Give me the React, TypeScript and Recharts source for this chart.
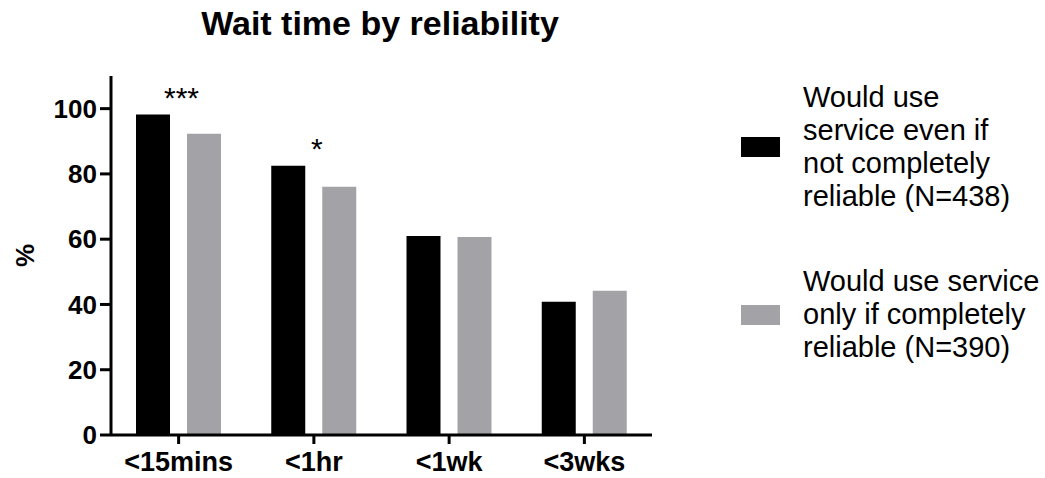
import React from 'react';
import { BarChart, Bar, XAxis, YAxis, Legend, LabelList, Label } from 'recharts';

// values
const categories = ['<15mins', '<1hr', '<1wk', '<3wks'];
const notReliable = [98.2, 82.5, 61.0, 40.8];
const onlyReliable = [92.3, 76.1, 60.7, 44.2];
const significance = ['***', '*', '', ''];
const yTicks = [0, 20, 40, 60, 80, 100];

const seriesNames = [
  'Would use service even if not completely reliable (N=438)',
  'Would use service only if completely reliable (N=390)',
];
// line breaks as they appear in the legend
const legendLines = [
  ['Would use', 'service even if', 'not completely', 'reliable (N=438)'],
  ['Would use service', 'only if completely', 'reliable (N=390)'],
];

const data = categories.map((c, i) => ({
  name: c,
  a: notReliable[i],
  b: onlyReliable[i],
  sig: significance[i],
}));

const FONT = '"Liberation Sans", Arial, Helvetica, sans-serif';
const LEGEND_W = 300;

const SigLabel = (props: any) => {
  const { x, y, width, index } = props;
  const txt = significance[index];
  if (!txt) return null;
  return (
    <text
      x={x + width + 8.5 + 3}
      y={y - 7}
      textAnchor="middle"
      fontSize={30}
      fontFamily={FONT}
      fill="#000"
    >
      {txt}
    </text>
  );
};

const LegendBox = (props: any) => {
  const { payload } = props;
  return (
    <div style={{ fontFamily: FONT, fontSize: 29, lineHeight: '33px', color: '#000' }}>
      {(payload || []).map((p: any, i: number) => (
        <div
          key={i}
          style={{ display: 'flex', alignItems: 'center', marginTop: i === 0 ? 0 : 52 }}
        >
          <div style={{ width: 39, height: 20, background: p.color, marginRight: 23, flexShrink: 0 }} />
          <div>
            {legendLines[i].map((l, j) => (
              <div key={j} style={{ whiteSpace: 'nowrap' }}>{l}</div>
            ))}
          </div>
        </div>
      ))}
    </div>
  );
};

export default function App() {
  return (
    <div style={{ position: 'absolute', left: 0, top: 0, width: 1045, height: 478, background: '#fff' }}>
      <div
        style={{
          position: 'absolute',
          left: 180,
          width: 400,
          top: 6,
          textAlign: 'center',
          fontFamily: FONT,
          fontWeight: 'bold',
          fontSize: 34,
          lineHeight: '34px',
          color: '#000',
        }}
      >
        Wait time by reliability
      </div>
      <BarChart
        width={1045}
        height={478}
        data={data}
        margin={{ top: 76, right: 393 - LEGEND_W, bottom: 0, left: 0 }}
        barSize={34}
        barGap={17}
      >
        <XAxis
          dataKey="name"
          height={43}
          axisLine={{ stroke: '#000', strokeWidth: 3 }}
          tickLine={{ stroke: '#000', strokeWidth: 3 }}
          tickSize={9}
          tickMargin={8}
          tick={{ fill: '#000', fontSize: 27, fontWeight: 'bold', fontFamily: FONT }}
        />
        <YAxis
          width={111}
          domain={[0, 110]}
          ticks={yTicks}
          axisLine={{ stroke: '#000', strokeWidth: 3 }}
          tickLine={{ stroke: '#000', strokeWidth: 3 }}
          tickSize={11}
          tickMargin={3}
          tick={{ fill: '#000', fontSize: 26, fontWeight: 'bold', fontFamily: FONT }}
        >
          <Label
            value="%"
            angle={-90}
            position="center"
            dx={-31}
            style={{ fill: '#000', fontSize: 26, fontWeight: 'bold', fontFamily: FONT }}
          />
        </YAxis>
        <Legend
          layout="vertical"
          align="right"
          verticalAlign="top"
          content={<LegendBox />}
          wrapperStyle={{ position: 'absolute', left: 741, top: 81, width: LEGEND_W }}
        />
        <Bar dataKey="a" name={seriesNames[0]} fill="#000000" isAnimationActive={false}>
          <LabelList dataKey="sig" content={<SigLabel />} />
        </Bar>
        <Bar dataKey="b" name={seriesNames[1]} fill="#a3a3a7" isAnimationActive={false} />
      </BarChart>
    </div>
  );
}
